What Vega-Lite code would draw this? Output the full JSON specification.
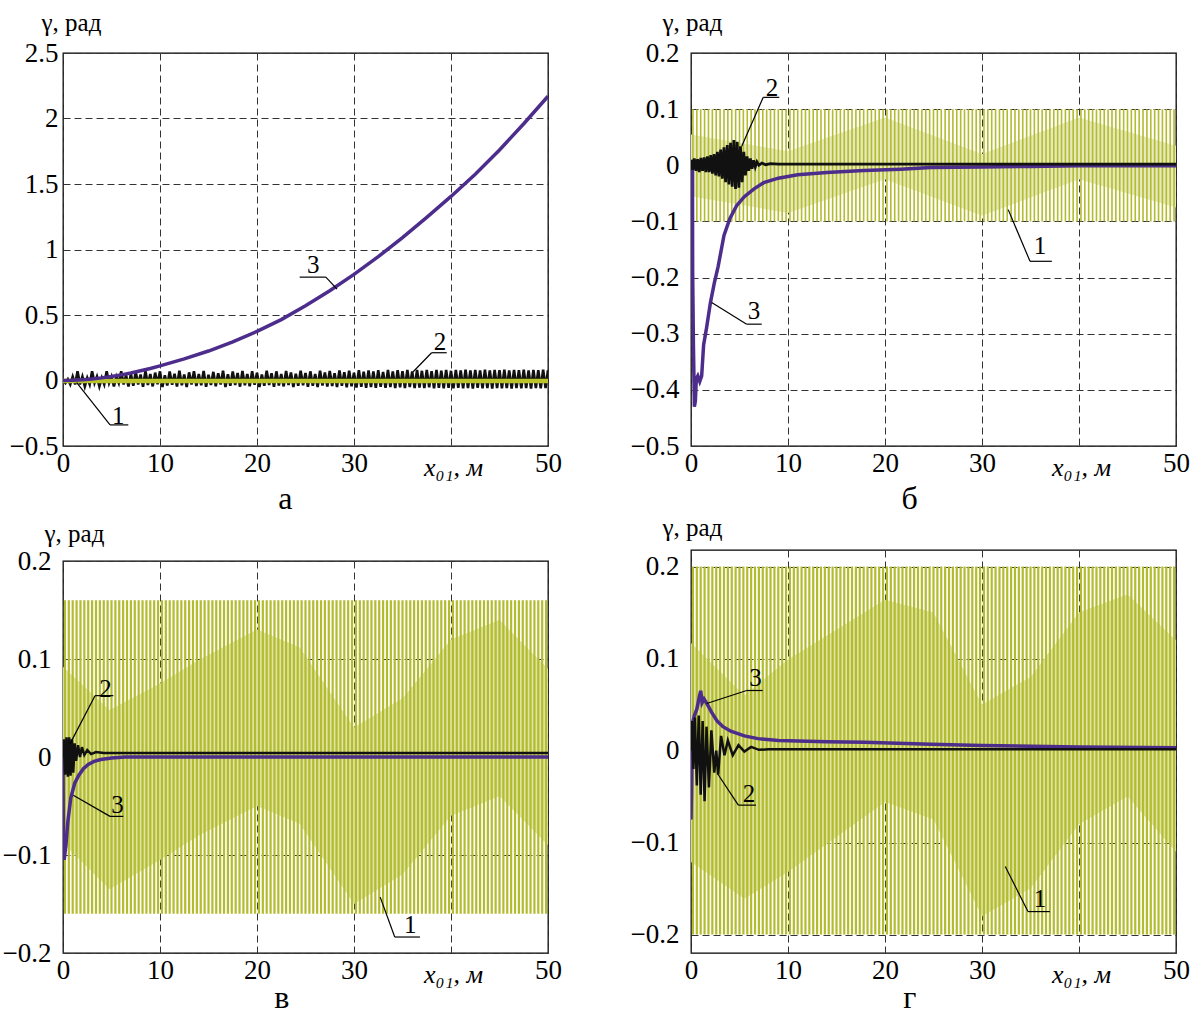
{
  "$schema": "https://vega.github.io/schema/vega-lite/v6.json",
  "background": "white",
  "padding": {"left": 1, "top": 9, "right": 5, "bottom": 5},
  "config": {
    "view": {"stroke": "#000", "strokeWidth": 1.3},
    "axis": {"zindex": 1, "domain": false, "ticks": false, "grid": true, "gridColor": "#333", "gridDash": [7, 4], "gridWidth": 1, "labelFont": "Liberation Serif", "labelFontSize": 27, "labelColor": "#000", "labelOverlap": false, "labelFlush": false, "titleFont": "Liberation Serif", "titleFontWeight": "normal", "titleColor": "#000"},
    "axisX": {"labelPadding": 4, "titleFontSize": 26, "titleFontStyle": "italic", "titleX": 390, "titleY": 29, "titleBaseline": "alphabetic", "titleAlign": "center"},
    "axisY": {"titleFontSize": 25, "titleAngle": 0, "titleAlign": "left", "titleBaseline": "middle"},
    "title": {"orient": "bottom", "anchor": "middle", "frame": "bounds", "font": "Liberation Serif", "fontSize": 32, "fontWeight": "normal", "color": "#000", "offset": 0}
  },
  "datasets": {
    "labels": [
      {"p": "a", "n": "1", "x": 5.7, "y": -0.268},
      {"p": "a", "n": "2", "x": 38.87, "y": 0.294},
      {"p": "a", "n": "3", "x": 25.8, "y": 0.881},
      {"p": "b", "n": "2", "x": 8.35, "y": 0.138},
      {"p": "b", "n": "1", "x": 35.98, "y": -0.1446},
      {"p": "b", "n": "3", "x": 6.5, "y": -0.26},
      {"p": "c", "n": "2", "x": 4.38, "y": 0.0697},
      {"p": "c", "n": "3", "x": 5.62, "y": -0.049},
      {"p": "c", "n": "1", "x": 35.8, "y": -0.1715},
      {"p": "d", "n": "3", "x": 6.65, "y": 0.0794},
      {"p": "d", "n": "2", "x": 5.98, "y": -0.0473},
      {"p": "d", "n": "1", "x": 35.98, "y": -0.161}
    ],
    "segs": [
      {"p": "a", "x": 4.85, "y": -0.339, "x2": 6.73, "y2": -0.339},
      {"p": "a", "x": 4.85, "y": -0.339, "x2": 1.41, "y2": -0.017},
      {"p": "a", "x": 38.0, "y": 0.212, "x2": 39.56, "y2": 0.212},
      {"p": "a", "x": 38.0, "y": 0.212, "x2": 36.1, "y2": 0.067},
      {"p": "a", "x": 24.4, "y": 0.789, "x2": 27.1, "y2": 0.789},
      {"p": "a", "x": 27.1, "y": 0.789, "x2": 28.25, "y2": 0.698},
      {"p": "b", "x": 7.45, "y": 0.121, "x2": 9.1, "y2": 0.121},
      {"p": "b", "x": 7.45, "y": 0.121, "x2": 5.23, "y2": 0.034},
      {"p": "b", "x": 34.95, "y": -0.171, "x2": 37.2, "y2": -0.171},
      {"p": "b", "x": 34.95, "y": -0.171, "x2": 32.7, "y2": -0.079},
      {"p": "b", "x": 5.74, "y": -0.283, "x2": 7.29, "y2": -0.283},
      {"p": "b", "x": 5.74, "y": -0.283, "x2": 2.13, "y2": -0.2446},
      {"p": "c", "x": 3.3, "y": 0.0626, "x2": 5.19, "y2": 0.0626},
      {"p": "c", "x": 3.3, "y": 0.0626, "x2": 0.72, "y2": 0.0134},
      {"p": "c", "x": 4.85, "y": -0.0606, "x2": 6.22, "y2": -0.0606},
      {"p": "c", "x": 4.85, "y": -0.0606, "x2": 1.06, "y2": -0.039},
      {"p": "c", "x": 34.2, "y": -0.1837, "x2": 36.8, "y2": -0.1837},
      {"p": "c", "x": 34.2, "y": -0.1837, "x2": 32.7, "y2": -0.143},
      {"p": "d", "x": 5.74, "y": 0.0653, "x2": 7.39, "y2": 0.0653},
      {"p": "d", "x": 5.74, "y": 0.0653, "x2": 1.62, "y2": 0.0512},
      {"p": "d", "x": 4.88, "y": -0.0593, "x2": 6.7, "y2": -0.0593},
      {"p": "d", "x": 4.88, "y": -0.0593, "x2": 2.71, "y2": -0.0246},
      {"p": "d", "x": 34.74, "y": -0.175, "x2": 37.0, "y2": -0.175},
      {"p": "d", "x": 34.74, "y": -0.175, "x2": 32.4, "y2": -0.126}
    ]
  },
  "spacing": 66,
  "hconcat": [
    {
      "bounds": "flush",
      "spacing": 115,
      "vconcat": [
        {
          "width": 485, "height": 393,
          "title": {"text": "а"},
          "encoding": {
            "x": {"field": "x", "type": "quantitative", "scale": {"domain": [0, 50], "nice": false, "zero": false}, "axis": {"values": [0, 10, 20, 30, 40, 50], "format": "d", "labelExpr": "datum.value == 40 ? '' : datum.label", "title": "x₀₁, м"}},
            "y": {"field": "y", "type": "quantitative", "scale": {"domain": [-0.5, 2.5], "nice": false, "zero": false}, "axis": {"values": [-0.5, 0, 0.5, 1, 1.5, 2, 2.5], "format": "~f", "title": "γ, рад", "titleX": -22, "titleY": -31, "labelPadding": 5}}
          },
          "layer": [
            {
              "data": {"values": "x,y\n0,0\n0.25,-0.02\n0.5,0.01\n0.75,-0.03\n1,0.03\n1.25,-0.03\n1.5,0.07\n1.75,-0.03\n2,0.03\n2.25,-0.045\n2.5,0.02\n2.75,-0.03\n3,0.07\n3.25,-0.02\n3.5,0.03\n3.75,-0.045\n4,0.02\n4.25,-0.03\n4.5,0.07\n4.75,-0.02\n5,0.03\n5.25,-0.045\n5.5,0.03\n5.75,-0.02\n6,0.07\n6.25,-0.03\n6.5,0.04\n6.75,-0.045\n7,0.05\n7.25,-0.04\n7.5,0.065\n7.75,-0.03\n8,0.045\n8.25,-0.048\n8.5,0.072\n8.75,-0.035\n9,0.05\n9.25,-0.045\n9.5,0.06\n9.75,-0.028\n10,0.07\n10.25,-0.05\n10.5,0.04\n10.75,-0.038\n11,0.068\n11.25,-0.032\n11.5,0.052\n11.75,-0.046\n12,0.075\n12.25,-0.036\n12.5,0.045\n12.75,-0.05\n13,0.062\n13.25,-0.03\n13.5,0.07\n13.75,-0.042\n14,0.05\n14.25,-0.036\n14.5,0.073\n14.75,-0.048\n15,0.044\n15.25,-0.034\n15.5,0.066\n15.75,-0.044\n16,0.055\n16.25,-0.03\n16.5,0.074\n16.75,-0.05\n17,0.048\n17.25,-0.04\n17.5,0.068\n17.75,-0.034\n18,0.058\n18.25,-0.047\n18.5,0.072\n18.75,-0.037\n19,0.05\n19.25,-0.044\n19.5,0.07\n19.75,-0.032\n20,0.06\n20.25,-0.05\n20.5,0.046\n20.75,-0.04\n21,0.074\n21.25,-0.035\n21.5,0.056\n21.75,-0.048\n22,0.07\n22.25,-0.038\n22.5,0.05\n22.75,-0.045\n23,0.073\n23.25,-0.034\n23.5,0.062\n23.75,-0.05\n24,0.052\n24.25,-0.04\n24.5,0.075\n24.75,-0.036\n25,0.058\n25.25,-0.048\n25.5,0.07\n25.75,-0.04\n26,0.05\n26.25,-0.05\n26.5,0.074\n26.75,-0.038\n27,0.062\n27.25,-0.046\n27.5,0.072\n27.75,-0.042\n28,0.055\n28.25,-0.05\n28.5,0.076\n28.75,-0.04\n29,0.064\n29.25,-0.052\n29.5,0.074\n29.75,-0.044\n30,0.06\n30.25,-0.054\n30.5,0.078\n30.75,-0.048\n31,0.068\n31.25,-0.055\n31.5,0.076\n31.75,-0.05\n32,0.07\n32.25,-0.056\n32.5,0.078\n32.75,-0.048\n33,0.066\n33.25,-0.056\n33.5,0.08\n33.75,-0.05\n34,0.07\n34.25,-0.057\n34.5,0.078\n34.75,-0.052\n35,0.072\n35.25,-0.058\n35.5,0.08\n35.75,-0.05\n36,0.07\n36.25,-0.058\n36.5,0.08\n36.75,-0.054\n37,0.074\n37.25,-0.058\n37.5,0.08\n37.75,-0.052\n38,0.072\n38.25,-0.06\n38.5,0.08\n38.75,-0.055\n39,0.075\n39.25,-0.06\n39.5,0.081\n39.75,-0.056\n40,0.074\n40.25,-0.06\n40.5,0.08\n40.75,-0.056\n41,0.076\n41.25,-0.06\n41.5,0.082\n41.75,-0.057\n42,0.076\n42.25,-0.061\n42.5,0.08\n42.75,-0.056\n43,0.077\n43.25,-0.06\n43.5,0.082\n43.75,-0.058\n44,0.076\n44.25,-0.061\n44.5,0.081\n44.75,-0.057\n45,0.078\n45.25,-0.06\n45.5,0.082\n45.75,-0.058\n46,0.077\n46.25,-0.061\n46.5,0.081\n46.75,-0.058\n47,0.078\n47.25,-0.06\n47.5,0.082\n47.75,-0.058\n48,0.077\n48.25,-0.061\n48.5,0.081\n48.75,-0.058\n49,0.078\n49.25,-0.06\n49.5,0.082\n49.75,-0.058\n50,0.078", "format": {"type": "csv", "parse": {"x": "number", "y": "number"}}},
              "mark": {"type": "line", "color": "#111", "strokeWidth": 2.6, "clip": true}
            },
            {
              "data": {"values": "x,y\n0,-0.003\n50,-0.003", "format": {"type": "csv", "parse": {"x": "number", "y": "number"}}},
              "mark": {"type": "line", "color": "#bcc42c", "strokeWidth": 4.5, "clip": true}
            },
            {
              "data": {"values": "x,y\n0,0\n1,0.002\n2,0.006\n3,0.012\n4,0.02\n5,0.03\n6,0.043\n7,0.057\n8,0.074\n9,0.092\n10,0.112\n12.5,0.165\n15,0.225\n17.5,0.295\n20,0.375\n22.5,0.465\n25,0.57\n27.5,0.685\n30,0.81\n32.5,0.945\n35,1.09\n37.5,1.245\n40,1.405\n42.5,1.575\n45,1.76\n47.5,1.96\n50,2.17", "format": {"type": "csv", "parse": {"x": "number", "y": "number"}}},
              "mark": {"type": "line", "color": "#4d2d8c", "strokeWidth": 3.5, "clip": true}
            },
            {
              "data": {"name": "segs"}, "transform": [{"filter": "datum.p == 'a'"}],
              "mark": {"type": "rule", "color": "#000", "strokeWidth": 1.2},
              "encoding": {"x2": {"field": "x2"}, "y2": {"field": "y2"}}
            },
            {
              "data": {"name": "labels"}, "transform": [{"filter": "datum.p == 'a'"}],
              "mark": {"type": "text", "font": "Liberation Serif", "fontSize": 25, "color": "#000", "baseline": "middle", "align": "center"},
              "encoding": {"text": {"field": "n"}}
            }
          ]
        },
        {
          "width": 485, "height": 392,
          "title": {"text": "в", "offset": -4},
          "encoding": {
            "x": {"field": "x", "type": "quantitative", "scale": {"domain": [0, 50], "nice": false, "zero": false}, "axis": {"values": [0, 10, 20, 30, 40, 50], "format": "d", "labelExpr": "datum.value == 40 ? '' : datum.label", "title": "x₀₁, м"}},
            "y": {"field": "y", "type": "quantitative", "scale": {"domain": [-0.2, 0.2], "nice": false, "zero": false}, "axis": {"values": [-0.2, -0.1, 0, 0.1, 0.2], "format": "~f", "title": "γ, рад", "titleX": -19, "titleY": -28, "labelPadding": 12}}
          },
          "layer": [
            {
              "data": {"values": "x,lo,hi\n0,-0.088,0.092\n4.8,-0.135,0.048\n10,-0.105,0.075\n14,-0.08,0.099\n20,-0.05,0.13\n24.4,-0.068,0.112\n30,-0.15,0.03\n35,-0.12,0.06\n40,-0.06,0.12\n45,-0.04,0.14\n50,-0.09,0.09", "format": {"type": "csv", "parse": {"x": "number", "lo": "number", "hi": "number"}}},
              "mark": {"type": "area", "color": "#dfe3a4", "opacity": 1},
              "encoding": {"y": {"field": "lo", "type": "quantitative"}, "y2": {"field": "hi"}}
            },
            {
              "data": {"values": "x,t,b\n0.2,0.16,-0.16\n0.6,0.16,-0.16\n1,0.16,-0.16\n1.4,0.16,-0.16\n1.8,0.16,-0.16\n2.2,0.16,-0.16\n2.6,0.16,-0.16\n3,0.16,-0.16\n3.4,0.16,-0.16\n3.8,0.16,-0.16\n4.2,0.16,-0.16\n4.6,0.16,-0.16\n5,0.16,-0.16\n5.4,0.16,-0.16\n5.8,0.16,-0.16\n6.2,0.16,-0.16\n6.6,0.16,-0.16\n7,0.16,-0.16\n7.4,0.16,-0.16\n7.8,0.16,-0.16\n8.2,0.16,-0.16\n8.6,0.16,-0.16\n9,0.16,-0.16\n9.4,0.16,-0.16\n9.8,0.16,-0.16\n10.2,0.16,-0.16\n10.6,0.16,-0.16\n11,0.16,-0.16\n11.4,0.16,-0.16\n11.8,0.16,-0.16\n12.2,0.16,-0.16\n12.6,0.16,-0.16\n13,0.16,-0.16\n13.4,0.16,-0.16\n13.8,0.16,-0.16\n14.2,0.16,-0.16\n14.6,0.16,-0.16\n15,0.16,-0.16\n15.4,0.16,-0.16\n15.8,0.16,-0.16\n16.2,0.16,-0.16\n16.6,0.16,-0.16\n17,0.16,-0.16\n17.4,0.16,-0.16\n17.8,0.16,-0.16\n18.2,0.16,-0.16\n18.6,0.16,-0.16\n19,0.16,-0.16\n19.4,0.16,-0.16\n19.8,0.16,-0.16\n20.2,0.16,-0.16\n20.6,0.16,-0.16\n21,0.16,-0.16\n21.4,0.16,-0.16\n21.8,0.16,-0.16\n22.2,0.16,-0.16\n22.6,0.16,-0.16\n23,0.16,-0.16\n23.4,0.16,-0.16\n23.8,0.16,-0.16\n24.2,0.16,-0.16\n24.6,0.16,-0.16\n25,0.16,-0.16\n25.4,0.16,-0.16\n25.8,0.16,-0.16\n26.2,0.16,-0.16\n26.6,0.16,-0.16\n27,0.16,-0.16\n27.4,0.16,-0.16\n27.8,0.16,-0.16\n28.2,0.16,-0.16\n28.6,0.16,-0.16\n29,0.16,-0.16\n29.4,0.16,-0.16\n29.8,0.16,-0.16\n30.2,0.16,-0.16\n30.6,0.16,-0.16\n31,0.16,-0.16\n31.4,0.16,-0.16\n31.8,0.16,-0.16\n32.2,0.16,-0.16\n32.6,0.16,-0.16\n33,0.16,-0.16\n33.4,0.16,-0.16\n33.8,0.16,-0.16\n34.2,0.16,-0.16\n34.6,0.16,-0.16\n35,0.16,-0.16\n35.4,0.16,-0.16\n35.8,0.16,-0.16\n36.2,0.16,-0.16\n36.6,0.16,-0.16\n37,0.16,-0.16\n37.4,0.16,-0.16\n37.8,0.16,-0.16\n38.2,0.16,-0.16\n38.6,0.16,-0.16\n39,0.16,-0.16\n39.4,0.16,-0.16\n39.8,0.16,-0.16\n40.2,0.16,-0.16\n40.6,0.16,-0.16\n41,0.16,-0.16\n41.4,0.16,-0.16\n41.8,0.16,-0.16\n42.2,0.16,-0.16\n42.6,0.16,-0.16\n43,0.16,-0.16\n43.4,0.16,-0.16\n43.8,0.16,-0.16\n44.2,0.16,-0.16\n44.6,0.16,-0.16\n45,0.16,-0.16\n45.4,0.16,-0.16\n45.8,0.16,-0.16\n46.2,0.16,-0.16\n46.6,0.16,-0.16\n47,0.16,-0.16\n47.4,0.16,-0.16\n47.8,0.16,-0.16\n48.2,0.16,-0.16\n48.6,0.16,-0.16\n49,0.16,-0.16\n49.4,0.16,-0.16\n49.8,0.16,-0.16", "format": {"type": "csv", "parse": {"x": "number", "t": "number", "b": "number"}}},
              "mark": {"type": "rule", "color": "#b3bb2e", "strokeWidth": 2.2},
              "encoding": {"y": {"field": "t", "type": "quantitative"}, "y2": {"field": "b"}}
            },
            {
              "data": {"values": "x,y\n0,0\n0.04,-0.09\n0.12,-0.105\n0.3,-0.09\n0.5,-0.066\n0.8,-0.042\n1.2,-0.027\n1.6,-0.019\n2.1,-0.012\n2.6,-0.0075\n3.2,-0.0045\n3.9,-0.0025\n5,-0.001\n6.4,0\n50,0", "format": {"type": "csv", "parse": {"x": "number", "y": "number"}}},
              "mark": {"type": "line", "color": "#4d2d8c", "strokeWidth": 3.5, "clip": true}
            },
            {
              "data": {"values": "x,y\n0,0\n0.08,0.018\n0.22,-0.018\n0.36,0.02\n0.5,-0.02\n0.64,0.02\n0.78,-0.019\n0.92,0.018\n1.06,-0.016\n1.2,0.014\n1.35,-0.004\n1.55,0.012\n1.75,0\n1.95,0.01\n2.2,0.002\n2.5,0.007\n2.9,0.003\n3.4,0.005\n4.2,0.004\n50,0.004", "format": {"type": "csv", "parse": {"x": "number", "y": "number"}}},
              "mark": {"type": "line", "color": "#111", "strokeWidth": 2.5, "clip": true}
            },
            {
              "data": {"name": "segs"}, "transform": [{"filter": "datum.p == 'c'"}],
              "mark": {"type": "rule", "color": "#000", "strokeWidth": 1.2},
              "encoding": {"x2": {"field": "x2"}, "y2": {"field": "y2"}}
            },
            {
              "data": {"name": "labels"}, "transform": [{"filter": "datum.p == 'c'"}],
              "mark": {"type": "text", "font": "Liberation Serif", "fontSize": 25, "color": "#000", "baseline": "middle", "align": "center"},
              "encoding": {"text": {"field": "n"}}
            }
          ]
        }
      ]
    },
    {
      "bounds": "flush",
      "spacing": 104,
      "vconcat": [
        {
          "width": 485, "height": 393,
          "title": {"text": "б"},
          "encoding": {
            "x": {"field": "x", "type": "quantitative", "scale": {"domain": [0, 50], "nice": false, "zero": false}, "axis": {"values": [0, 10, 20, 30, 40, 50], "format": "d", "labelExpr": "datum.value == 40 ? '' : datum.label", "title": "x₀₁, м"}},
            "y": {"field": "y", "type": "quantitative", "scale": {"domain": [-0.5, 0.2], "nice": false, "zero": false}, "axis": {"values": [-0.5, -0.4, -0.3, -0.2, -0.1, 0, 0.1, 0.2], "format": "~f", "title": "γ, рад", "titleX": -29, "titleY": -31, "labelPadding": 12}}
          },
          "layer": [
            {
              "data": {"values": "x,lo,hi\n0,-0.055,0.055\n10,-0.085,0.025\n20,-0.025,0.085\n30,-0.09,0.02\n40,-0.025,0.085\n50,-0.075,0.035", "format": {"type": "csv", "parse": {"x": "number", "lo": "number", "hi": "number"}}},
              "mark": {"type": "area", "color": "#e6e9bb", "opacity": 1},
              "encoding": {"y": {"field": "lo", "type": "quantitative"}, "y2": {"field": "hi"}}
            },
            {
              "data": {"values": "x,t,b\n0.2,0.1,-0.1\n0.6,0.1,-0.1\n1,0.1,-0.1\n1.4,0.1,-0.1\n1.8,0.1,-0.1\n2.2,0.1,-0.1\n2.6,0.1,-0.1\n3,0.1,-0.1\n3.4,0.1,-0.1\n3.8,0.1,-0.1\n4.2,0.1,-0.1\n4.6,0.1,-0.1\n5,0.1,-0.1\n5.4,0.1,-0.1\n5.8,0.1,-0.1\n6.2,0.1,-0.1\n6.6,0.1,-0.1\n7,0.1,-0.1\n7.4,0.1,-0.1\n7.8,0.1,-0.1\n8.2,0.1,-0.1\n8.6,0.1,-0.1\n9,0.1,-0.1\n9.4,0.1,-0.1\n9.8,0.1,-0.1\n10.2,0.1,-0.1\n10.6,0.1,-0.1\n11,0.1,-0.1\n11.4,0.1,-0.1\n11.8,0.1,-0.1\n12.2,0.1,-0.1\n12.6,0.1,-0.1\n13,0.1,-0.1\n13.4,0.1,-0.1\n13.8,0.1,-0.1\n14.2,0.1,-0.1\n14.6,0.1,-0.1\n15,0.1,-0.1\n15.4,0.1,-0.1\n15.8,0.1,-0.1\n16.2,0.1,-0.1\n16.6,0.1,-0.1\n17,0.1,-0.1\n17.4,0.1,-0.1\n17.8,0.1,-0.1\n18.2,0.1,-0.1\n18.6,0.1,-0.1\n19,0.1,-0.1\n19.4,0.1,-0.1\n19.8,0.1,-0.1\n20.2,0.1,-0.1\n20.6,0.1,-0.1\n21,0.1,-0.1\n21.4,0.1,-0.1\n21.8,0.1,-0.1\n22.2,0.1,-0.1\n22.6,0.1,-0.1\n23,0.1,-0.1\n23.4,0.1,-0.1\n23.8,0.1,-0.1\n24.2,0.1,-0.1\n24.6,0.1,-0.1\n25,0.1,-0.1\n25.4,0.1,-0.1\n25.8,0.1,-0.1\n26.2,0.1,-0.1\n26.6,0.1,-0.1\n27,0.1,-0.1\n27.4,0.1,-0.1\n27.8,0.1,-0.1\n28.2,0.1,-0.1\n28.6,0.1,-0.1\n29,0.1,-0.1\n29.4,0.1,-0.1\n29.8,0.1,-0.1\n30.2,0.1,-0.1\n30.6,0.1,-0.1\n31,0.1,-0.1\n31.4,0.1,-0.1\n31.8,0.1,-0.1\n32.2,0.1,-0.1\n32.6,0.1,-0.1\n33,0.1,-0.1\n33.4,0.1,-0.1\n33.8,0.1,-0.1\n34.2,0.1,-0.1\n34.6,0.1,-0.1\n35,0.1,-0.1\n35.4,0.1,-0.1\n35.8,0.1,-0.1\n36.2,0.1,-0.1\n36.6,0.1,-0.1\n37,0.1,-0.1\n37.4,0.1,-0.1\n37.8,0.1,-0.1\n38.2,0.1,-0.1\n38.6,0.1,-0.1\n39,0.1,-0.1\n39.4,0.1,-0.1\n39.8,0.1,-0.1\n40.2,0.1,-0.1\n40.6,0.1,-0.1\n41,0.1,-0.1\n41.4,0.1,-0.1\n41.8,0.1,-0.1\n42.2,0.1,-0.1\n42.6,0.1,-0.1\n43,0.1,-0.1\n43.4,0.1,-0.1\n43.8,0.1,-0.1\n44.2,0.1,-0.1\n44.6,0.1,-0.1\n45,0.1,-0.1\n45.4,0.1,-0.1\n45.8,0.1,-0.1\n46.2,0.1,-0.1\n46.6,0.1,-0.1\n47,0.1,-0.1\n47.4,0.1,-0.1\n47.8,0.1,-0.1\n48.2,0.1,-0.1\n48.6,0.1,-0.1\n49,0.1,-0.1\n49.4,0.1,-0.1\n49.8,0.1,-0.1", "format": {"type": "csv", "parse": {"x": "number", "t": "number", "b": "number"}}},
              "mark": {"type": "rule", "color": "#b3bb2e", "strokeWidth": 1.6},
              "encoding": {"y": {"field": "t", "type": "quantitative"}, "y2": {"field": "b"}}
            },
            {
              "data": {"values": "x,y\n0,0\n0.15,-0.005\n0.17,-0.19\n0.25,-0.32\n0.35,-0.43\n0.45,-0.42\n0.55,-0.38\n0.7,-0.375\n0.9,-0.385\n1.1,-0.375\n1.3,-0.32\n1.6,-0.29\n2,-0.245\n2.4,-0.21\n2.8,-0.18\n3.4,-0.125\n4,-0.095\n4.7,-0.072\n5.5,-0.056\n6.5,-0.042\n7.5,-0.031\n9,-0.023\n11,-0.017\n14,-0.013\n17.8,-0.0095\n21.6,-0.007\n24.7,-0.004\n30,-0.003\n35,-0.002\n40,-0.001\n50,-0.001", "format": {"type": "csv", "parse": {"x": "number", "y": "number"}}},
              "mark": {"type": "line", "color": "#4d2d8c", "strokeWidth": 3.5, "clip": true}
            },
            {
              "data": {"values": "x,y\n0,0.01\n0.17,-0.008\n0.34,0.012\n0.51,-0.01\n0.68,0.011\n0.85,-0.012\n1.02,0.013\n1.19,-0.01\n1.36,0.014\n1.53,-0.012\n1.7,0.016\n1.87,-0.012\n2.04,0.018\n2.21,-0.015\n2.38,0.02\n2.55,-0.018\n2.72,0.024\n2.89,-0.02\n3.06,0.028\n3.23,-0.024\n3.4,0.032\n3.57,-0.03\n3.74,0.036\n3.91,-0.034\n4.08,0.04\n4.25,-0.038\n4.42,0.045\n4.59,-0.042\n4.76,0.042\n4.93,-0.04\n5.1,0.034\n5.27,-0.03\n5.44,0.024\n5.61,-0.018\n5.78,0.016\n5.95,-0.01\n6.12,0.012\n6.29,-0.006\n6.46,0.009\n6.63,-0.003\n6.8,0.006\n7,0\n7.3,0.004\n7.7,0.001\n8.2,0.003\n9,0.002\n50,0.002", "format": {"type": "csv", "parse": {"x": "number", "y": "number"}}},
              "mark": {"type": "line", "color": "#111", "strokeWidth": 2.8, "clip": true}
            },
            {
              "data": {"name": "segs"}, "transform": [{"filter": "datum.p == 'b'"}],
              "mark": {"type": "rule", "color": "#000", "strokeWidth": 1.2},
              "encoding": {"x2": {"field": "x2"}, "y2": {"field": "y2"}}
            },
            {
              "data": {"name": "labels"}, "transform": [{"filter": "datum.p == 'b'"}],
              "mark": {"type": "text", "font": "Liberation Serif", "fontSize": 25, "color": "#000", "baseline": "middle", "align": "center"},
              "encoding": {"text": {"field": "n"}}
            }
          ]
        },
        {
          "width": 485, "height": 403,
          "title": {"text": "г", "offset": -4},
          "encoding": {
            "x": {"field": "x", "type": "quantitative", "scale": {"domain": [0, 50], "nice": false, "zero": false}, "axis": {"values": [0, 10, 20, 30, 40, 50], "format": "d", "labelExpr": "datum.value == 40 ? '' : datum.label", "title": "x₀₁, м"}},
            "y": {"field": "y", "type": "quantitative", "scale": {"domain": [-0.22, 0.218], "nice": false, "zero": false}, "axis": {"values": [-0.2, -0.1, 0, 0.1, 0.2], "format": "~f", "title": "γ, рад", "titleX": -29, "titleY": -23, "labelPadding": 12}}
          },
          "layer": [
            {
              "data": {"values": "x,lo,hi\n0,-0.121,0.117\n5.5,-0.161,0.06\n10,-0.132,0.099\n20,-0.056,0.164\n25,-0.075,0.15\n30,-0.18,0.05\n35,-0.15,0.08\n40,-0.08,0.15\n45,-0.05,0.17\n50,-0.11,0.12", "format": {"type": "csv", "parse": {"x": "number", "lo": "number", "hi": "number"}}},
              "mark": {"type": "area", "color": "#dfe3a4", "opacity": 1},
              "encoding": {"y": {"field": "lo", "type": "quantitative"}, "y2": {"field": "hi"}}
            },
            {
              "data": {"values": "x,t,b\n0.2,0.2,-0.2\n0.6,0.2,-0.2\n1,0.2,-0.2\n1.4,0.2,-0.2\n1.8,0.2,-0.2\n2.2,0.2,-0.2\n2.6,0.2,-0.2\n3,0.2,-0.2\n3.4,0.2,-0.2\n3.8,0.2,-0.2\n4.2,0.2,-0.2\n4.6,0.2,-0.2\n5,0.2,-0.2\n5.4,0.2,-0.2\n5.8,0.2,-0.2\n6.2,0.2,-0.2\n6.6,0.2,-0.2\n7,0.2,-0.2\n7.4,0.2,-0.2\n7.8,0.2,-0.2\n8.2,0.2,-0.2\n8.6,0.2,-0.2\n9,0.2,-0.2\n9.4,0.2,-0.2\n9.8,0.2,-0.2\n10.2,0.2,-0.2\n10.6,0.2,-0.2\n11,0.2,-0.2\n11.4,0.2,-0.2\n11.8,0.2,-0.2\n12.2,0.2,-0.2\n12.6,0.2,-0.2\n13,0.2,-0.2\n13.4,0.2,-0.2\n13.8,0.2,-0.2\n14.2,0.2,-0.2\n14.6,0.2,-0.2\n15,0.2,-0.2\n15.4,0.2,-0.2\n15.8,0.2,-0.2\n16.2,0.2,-0.2\n16.6,0.2,-0.2\n17,0.2,-0.2\n17.4,0.2,-0.2\n17.8,0.2,-0.2\n18.2,0.2,-0.2\n18.6,0.2,-0.2\n19,0.2,-0.2\n19.4,0.2,-0.2\n19.8,0.2,-0.2\n20.2,0.2,-0.2\n20.6,0.2,-0.2\n21,0.2,-0.2\n21.4,0.2,-0.2\n21.8,0.2,-0.2\n22.2,0.2,-0.2\n22.6,0.2,-0.2\n23,0.2,-0.2\n23.4,0.2,-0.2\n23.8,0.2,-0.2\n24.2,0.2,-0.2\n24.6,0.2,-0.2\n25,0.2,-0.2\n25.4,0.2,-0.2\n25.8,0.2,-0.2\n26.2,0.2,-0.2\n26.6,0.2,-0.2\n27,0.2,-0.2\n27.4,0.2,-0.2\n27.8,0.2,-0.2\n28.2,0.2,-0.2\n28.6,0.2,-0.2\n29,0.2,-0.2\n29.4,0.2,-0.2\n29.8,0.2,-0.2\n30.2,0.2,-0.2\n30.6,0.2,-0.2\n31,0.2,-0.2\n31.4,0.2,-0.2\n31.8,0.2,-0.2\n32.2,0.2,-0.2\n32.6,0.2,-0.2\n33,0.2,-0.2\n33.4,0.2,-0.2\n33.8,0.2,-0.2\n34.2,0.2,-0.2\n34.6,0.2,-0.2\n35,0.2,-0.2\n35.4,0.2,-0.2\n35.8,0.2,-0.2\n36.2,0.2,-0.2\n36.6,0.2,-0.2\n37,0.2,-0.2\n37.4,0.2,-0.2\n37.8,0.2,-0.2\n38.2,0.2,-0.2\n38.6,0.2,-0.2\n39,0.2,-0.2\n39.4,0.2,-0.2\n39.8,0.2,-0.2\n40.2,0.2,-0.2\n40.6,0.2,-0.2\n41,0.2,-0.2\n41.4,0.2,-0.2\n41.8,0.2,-0.2\n42.2,0.2,-0.2\n42.6,0.2,-0.2\n43,0.2,-0.2\n43.4,0.2,-0.2\n43.8,0.2,-0.2\n44.2,0.2,-0.2\n44.6,0.2,-0.2\n45,0.2,-0.2\n45.4,0.2,-0.2\n45.8,0.2,-0.2\n46.2,0.2,-0.2\n46.6,0.2,-0.2\n47,0.2,-0.2\n47.4,0.2,-0.2\n47.8,0.2,-0.2\n48.2,0.2,-0.2\n48.6,0.2,-0.2\n49,0.2,-0.2\n49.4,0.2,-0.2\n49.8,0.2,-0.2", "format": {"type": "csv", "parse": {"x": "number", "t": "number", "b": "number"}}},
              "mark": {"type": "rule", "color": "#b3bb2e", "strokeWidth": 2.2},
              "encoding": {"y": {"field": "t", "type": "quantitative"}, "y2": {"field": "b"}}
            },
            {
              "data": {"values": "x,y\n0,-0.075\n0.06,-0.04\n0.15,0.03\n0.35,0.038\n0.6,0.045\n0.85,0.058\n1,0.065\n1.15,0.052\n1.35,0.056\n1.7,0.05\n2.1,0.042\n2.7,0.032\n3.3,0.026\n4.1,0.021\n5.5,0.016\n6.9,0.013\n9,0.011\n11,0.0104\n14,0.0095\n17.9,0.009\n24.7,0.0068\n30,0.0055\n40,0.004\n50,0.003", "format": {"type": "csv", "parse": {"x": "number", "y": "number"}}},
              "mark": {"type": "line", "color": "#4d2d8c", "strokeWidth": 3.5, "clip": true}
            },
            {
              "data": {"values": "x,y\n0,0\n0.1,0.032\n0.25,-0.02\n0.4,0.036\n0.6,-0.038\n0.8,0.038\n1,-0.048\n1.2,0.032\n1.4,-0.055\n1.6,0.026\n1.85,-0.04\n2.1,0.022\n2.4,-0.024\n2.6,0\n2.8,-0.026\n3.1,0.016\n3.45,-0.005\n3.8,0.011\n4.3,-0.005\n4.9,0.006\n5.5,-0.001\n6.2,0.004\n7,0.0008\n8,0.0015\n50,0.0015", "format": {"type": "csv", "parse": {"x": "number", "y": "number"}}},
              "mark": {"type": "line", "color": "#111", "strokeWidth": 2.5, "clip": true}
            },
            {
              "data": {"name": "segs"}, "transform": [{"filter": "datum.p == 'd'"}],
              "mark": {"type": "rule", "color": "#000", "strokeWidth": 1.2},
              "encoding": {"x2": {"field": "x2"}, "y2": {"field": "y2"}}
            },
            {
              "data": {"name": "labels"}, "transform": [{"filter": "datum.p == 'd'"}],
              "mark": {"type": "text", "font": "Liberation Serif", "fontSize": 25, "color": "#000", "baseline": "middle", "align": "center"},
              "encoding": {"text": {"field": "n"}}
            }
          ]
        }
      ]
    }
  ]
}
